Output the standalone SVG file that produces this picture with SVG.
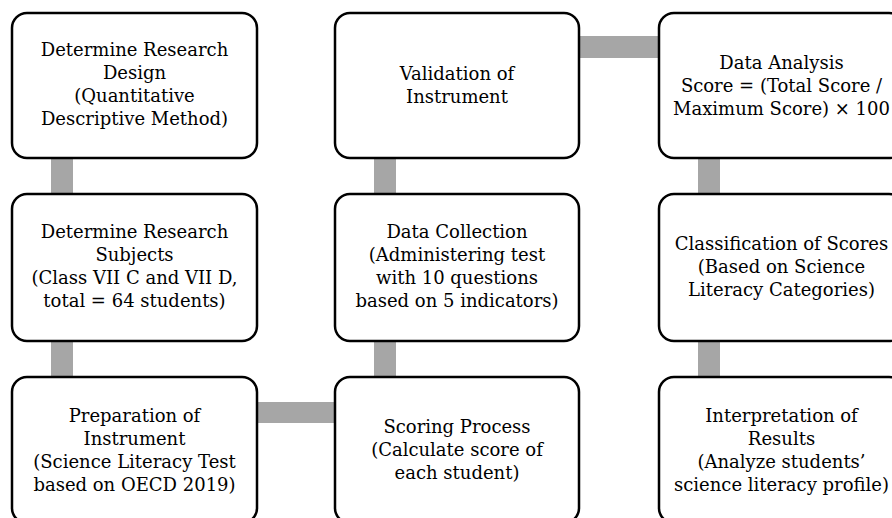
<svg xmlns="http://www.w3.org/2000/svg" width="892" height="518" viewBox="0 0 892 518">
<style>
.box{fill:#fff;stroke:#000;stroke-width:2.5}
.conn{fill:#a6a6a6}
text{font-family:"DejaVu Serif","Liberation Serif",serif;font-size:18px;fill:#000;text-anchor:middle}
</style>
<rect width="892" height="518" fill="#fff"/>
<g id="connectors">
<rect class="conn" x="51" y="150" width="22" height="52"/>
<rect class="conn" x="51" y="333" width="22" height="52"/>
<rect class="conn" x="374" y="150" width="22" height="52"/>
<rect class="conn" x="374" y="333" width="22" height="52"/>
<rect class="conn" x="698" y="150" width="22" height="52"/>
<rect class="conn" x="698" y="333" width="22" height="52"/>
<rect class="conn" x="250" y="402" width="92" height="21"/>
<rect class="conn" x="572" y="36" width="94" height="22"/>
</g>
<g id="n1">
<rect class="box" x="12" y="13" width="245" height="145" rx="15"/>
<text x="134.5" y="56">Determine Research</text>
<text x="134.5" y="79">Design</text>
<text x="134.5" y="102">(Quantitative</text>
<text x="134.5" y="125">Descriptive Method)</text>
</g>
<g id="n2">
<rect class="box" x="12" y="194" width="245" height="147" rx="15"/>
<text x="134.5" y="238">Determine Research</text>
<text x="134.5" y="261">Subjects</text>
<text x="134.5" y="284">(Class VII C and VII D,</text>
<text x="134.5" y="307">total = 64 students)</text>
</g>
<g id="n3">
<rect class="box" x="12" y="377" width="245" height="146" rx="15"/>
<text x="134.5" y="422">Preparation of</text>
<text x="134.5" y="445">Instrument</text>
<text x="134.5" y="468">(Science Literacy Test</text>
<text x="134.5" y="491">based on OECD 2019)</text>
</g>
<g id="n4">
<rect class="box" x="335" y="377" width="244" height="146" rx="15"/>
<text x="457" y="433">Scoring Process</text>
<text x="457" y="456">(Calculate score of</text>
<text x="457" y="479">each student)</text>
</g>
<g id="n5">
<rect class="box" x="335" y="194" width="244" height="147" rx="15"/>
<text x="457" y="238">Data Collection</text>
<text x="457" y="261">(Administering test</text>
<text x="457" y="284">with 10 questions</text>
<text x="457" y="307">based on 5 indicators)</text>
</g>
<g id="n6">
<rect class="box" x="335" y="13" width="244" height="145" rx="15"/>
<text x="457" y="80">Validation of</text>
<text x="457" y="103">Instrument</text>
</g>
<g id="n7">
<rect class="box" x="659" y="13" width="245" height="145" rx="15"/>
<text x="781.5" y="69">Data Analysis</text>
<text x="781.5" y="92">Score = (Total Score /</text>
<text x="781.5" y="115">Maximum Score) × 100</text>
</g>
<g id="n8">
<rect class="box" x="659" y="194" width="245" height="147" rx="15"/>
<text x="781.5" y="250">Classification of Scores</text>
<text x="781.5" y="273">(Based on Science</text>
<text x="781.5" y="296">Literacy Categories)</text>
</g>
<g id="n9">
<rect class="box" x="659" y="377" width="245" height="146" rx="15"/>
<text x="781.5" y="422">Interpretation of</text>
<text x="781.5" y="445">Results</text>
<text x="781.5" y="468">(Analyze students’</text>
<text x="781.5" y="491">science literacy profile)</text>
</g>
</svg>
